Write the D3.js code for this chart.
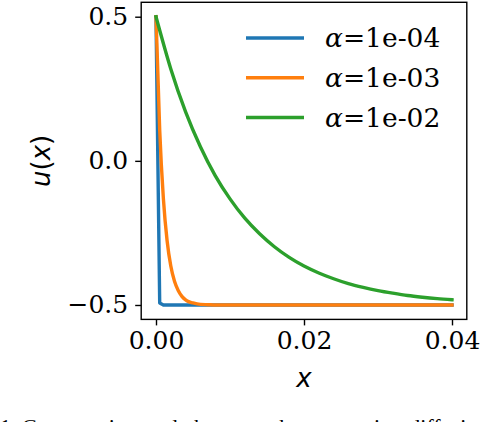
<!DOCTYPE html>
<html>
<head>
<meta charset="utf-8">
<script src="https://cdn.jsdelivr.net/npm/d3@7"></script>
<style>
  html, body { margin: 0; padding: 0; background: #fff; }
  svg { display: block; }
</style>
</head>
<body>
<svg id="chart" width="482" height="422"></svg>
<script>
// ---- data ----
const seriesLabels = ["1e-04", "1e-03", "1e-02"];
const seriesColors = ["#1f77b4", "#ff7f0e", "#2ca02c"];

const xBlue = [0, 0.0005, 0.001, 0.002, 0.01, 0.02, 0.03, 0.04];
const yBlue = [0.5, -0.493, -0.5, -0.5, -0.5, -0.5, -0.5, -0.5];

const xOrange = [0, 0.0005, 0.001, 0.0015, 0.002, 0.0025, 0.003, 0.0035, 0.004, 0.0045, 0.005, 0.006, 0.007, 0.008, 0.01, 0.02, 0.03, 0.04];
const yOrange = [0.5, 0.107, -0.132, -0.277, -0.365, -0.418, -0.450, -0.470, -0.482, -0.489, -0.493, -0.498, -0.499, -0.5, -0.5, -0.5, -0.5, -0.5];

const xGreen = [0, 0.002, 0.004, 0.006, 0.008, 0.010, 0.012, 0.014, 0.016, 0.018, 0.020, 0.022, 0.024, 0.026, 0.028, 0.030, 0.032, 0.034, 0.036, 0.038, 0.040];
const yGreen = [0.5, 0.319, 0.170, 0.049, -0.051, -0.132, -0.199, -0.253, -0.298, -0.335, -0.365, -0.389, -0.409, -0.426, -0.439, -0.450, -0.459, -0.467, -0.473, -0.478, -0.482];

const xTicks = [0, 0.02, 0.04];
const xTickLabels = ["0.00", "0.02", "0.04"];
const yTicks = [0.5, 0, -0.5];
const yTickLabels = ["0.5", "0.0", "\u22120.5"];

const captionText = "1. Comparative study between the convection-diffusion";

// ---- drawing ----
const svg = d3.select("#chart");
const plot = { left: 141.2, right: 466.8, top: 2.3, bottom: 319.4 };

const x = d3.scaleLinear().domain([-0.002, 0.042]).range([plot.left, plot.right]);
const y = d3.scaleLinear().domain([-0.55, 0.55]).range([plot.bottom, plot.top]);

const serif = "'DejaVu Serif', serif";
const sans = "'DejaVu Sans', sans-serif";

const series = [
  { xs: xBlue, ys: yBlue, curve: d3.curveLinear },
  { xs: xOrange, ys: yOrange, curve: d3.curveMonotoneX },
  { xs: xGreen, ys: yGreen, curve: d3.curveMonotoneX }
];

svg.append("defs").append("clipPath").attr("id", "clip")
  .append("rect")
  .attr("x", plot.left).attr("y", plot.top)
  .attr("width", plot.right - plot.left).attr("height", plot.bottom - plot.top);

const lines = svg.append("g").attr("clip-path", "url(#clip)");
series.forEach((s, i) => {
  const line = d3.line().x(d => x(d[0])).y(d => y(d[1])).curve(s.curve);
  lines.append("path")
    .datum(s.xs.map((v, j) => [v, s.ys[j]]))
    .attr("d", line)
    .attr("fill", "none")
    .attr("stroke", seriesColors[i])
    .attr("stroke-width", 3.4)
    .attr("stroke-linejoin", "round")
    .attr("stroke-linecap", "square");
});

// axes
const xAxis = d3.axisBottom(x).tickValues(xTicks)
  .tickFormat((d, i) => xTickLabels[i]).tickSize(6).tickPadding(6);
const yAxis = d3.axisLeft(y).tickValues(yTicks)
  .tickFormat((d, i) => yTickLabels[i]).tickSize(6).tickPadding(7);

const gx = svg.append("g").attr("transform", `translate(0,${plot.bottom})`).call(xAxis);
const gy = svg.append("g").attr("transform", `translate(${plot.left},0)`).call(yAxis);
[gx, gy].forEach(g => {
  g.select(".domain").remove();
  g.selectAll(".tick line").attr("stroke", "#000").attr("stroke-width", 1.4);
  g.selectAll(".tick text").attr("fill", "#000")
    .style("font-family", serif).style("font-size", "25px");
});

// frame
svg.append("rect")
  .attr("x", plot.left).attr("y", plot.top)
  .attr("width", plot.right - plot.left).attr("height", plot.bottom - plot.top)
  .attr("fill", "none").attr("stroke", "#000").attr("stroke-width", 1.4);

// axis labels
svg.append("text")
  .attr("x", x(0.02)).attr("y", 387)
  .attr("text-anchor", "middle")
  .style("font-family", sans).style("font-style", "italic").style("font-size", "26px")
  .text("x");

svg.append("text")
  .attr("transform", `translate(50,${y(0)}) rotate(-90)`)
  .attr("text-anchor", "middle")
  .style("font-family", sans).style("font-size", "26px")
  .call(t => {
    t.append("tspan").style("font-style", "italic").text("u");
    t.append("tspan").text("(");
    t.append("tspan").style("font-style", "italic").text("x");
    t.append("tspan").text(")");
  });

// legend
const legendRows = [38, 77.7, 117.5];
const legend = svg.append("g");
seriesLabels.forEach((lab, i) => {
  legend.append("line")
    .attr("x1", 246).attr("x2", 304)
    .attr("y1", legendRows[i]).attr("y2", legendRows[i])
    .attr("stroke", seriesColors[i]).attr("stroke-width", 3.4);
  const t = legend.append("text")
    .attr("x", 325).attr("y", legendRows[i] + 9)
    .style("font-family", serif).style("font-size", "26.5px").attr("fill", "#000");
  t.append("tspan").style("font-style", "italic").text("\u03b1");
  t.append("tspan").text("=" + lab);
});

// caption (cut off at the bottom edge, as in the reference)
svg.append("text")
  .attr("x", 0).attr("y", 433.5)
  .style("font-family", "'Liberation Serif', serif").style("font-size", "22px")
  .attr("fill", "#000")
  .text(captionText);
</script>
</body>
</html>
